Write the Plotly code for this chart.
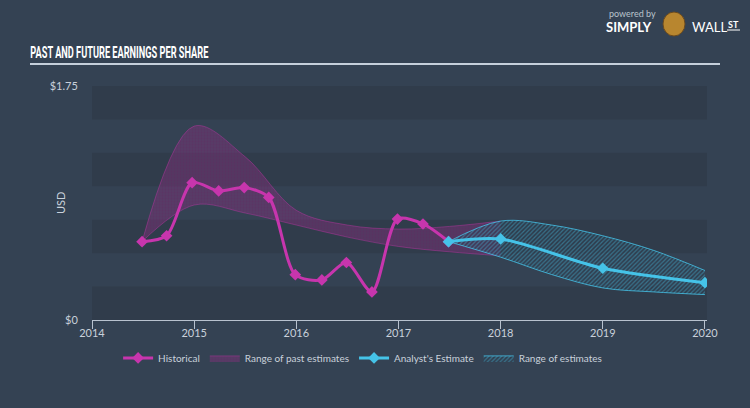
import plotly.graph_objects as go

# ---------------- data ----------------
hist_x = [2014.49, 2014.73, 2014.98, 2015.24, 2015.49, 2015.73, 2015.99,
          2016.25, 2016.49, 2016.74, 2016.99, 2017.24, 2017.49]
hist_y = [0.586, 0.63, 1.027, 0.965, 0.99, 0.917, 0.339,
          0.30, 0.43, 0.21, 0.755, 0.718, 0.586]

past_rng_x = [2014.49, 2015.0, 2015.5, 2016.0, 2016.5, 2017.0, 2017.5, 2018.0]
past_rng_hi = [0.586, 1.45, 1.22, 0.82, 0.71, 0.68, 0.70, 0.74]
past_rng_lo = [0.586, 0.86, 0.80, 0.71, 0.62, 0.55, 0.51, 0.48]

est_x = [2017.49, 2018.0, 2019.0, 2020.0]
est_y = [0.586, 0.606, 0.387, 0.279]

est_rng_x = [2017.49, 2018.0, 2018.5, 2019.0, 2019.5, 2020.0]
est_rng_hi = [0.586, 0.74, 0.71, 0.63, 0.52, 0.37]
est_rng_lo = [0.586, 0.47, 0.34, 0.24, 0.21, 0.19]

x_ticks = [2014, 2015, 2016, 2017, 2018, 2019, 2020]
y_ticks = [0, 1.75]
y_tick_labels = ["$0", "$1.75"]

BG = "#344253"
DARK = "#303c4b"
PINK = "#c735ad"
BLUE = "#45c3e8"
TXT = "#c9d1db"

L, R, T, B = 92, 43, 86, 88
PW, PH = 750 - L - R, 408 - T - B


def px(x):
    return (x - L) / PW


def py(y):
    return (408 - B - y) / PH


fig = go.Figure()

# past range band
fig.add_trace(go.Scatter(x=past_rng_x, y=past_rng_lo, mode="lines",
                         line=dict(color="rgba(199,53,173,0.4)", width=1, shape="spline"),
                         showlegend=False, hoverinfo="skip"))
fig.add_trace(go.Scatter(x=past_rng_x, y=past_rng_hi, mode="lines", fill="tonexty",
                         line=dict(color="rgba(199,53,173,0.4)", width=1, shape="spline"),
                         fillcolor="rgba(140,50,130,0.45)",
                         fillpattern=dict(shape=".", fgcolor="rgba(100,35,95,0.5)",
                                          bgcolor="rgba(135,48,128,0.42)", size=3, solidity=0.3),
                         name="Range of past estimates", hoverinfo="skip"))
# estimate range band
fig.add_trace(go.Scatter(x=est_rng_x, y=est_rng_lo, mode="lines",
                         line=dict(color="rgba(69,195,232,0.8)", width=1, shape="spline"),
                         showlegend=False, hoverinfo="skip"))
fig.add_trace(go.Scatter(x=est_rng_x, y=est_rng_hi, mode="lines", fill="tonexty",
                         line=dict(color="rgba(69,195,232,0.8)", width=1, shape="spline"),
                         fillpattern=dict(shape="/", fgcolor="rgba(69,195,232,0.8)",
                                          bgcolor="rgba(45,60,78,0.5)", size=3, solidity=0.4),
                         name="Range of estimates", hoverinfo="skip"))

# lines
fig.add_trace(go.Scatter(x=hist_x, y=hist_y, mode="lines+markers", name="Historical",
                         line=dict(color=PINK, width=3, shape="spline", smoothing=0.8),
                         marker=dict(symbol="diamond", size=9, color=PINK)))
fig.add_trace(go.Scatter(x=est_x, y=est_y, mode="lines+markers", name="Analyst's Estimate",
                         line=dict(color=BLUE, width=3, shape="spline", smoothing=0.8),
                         marker=dict(symbol="diamond", size=9, color=BLUE)))

# background stripes
shapes = []
for lo in [0, 0.5, 1.0, 1.5]:
    shapes.append(dict(type="rect", xref="paper", yref="y", x0=0, x1=1, y0=lo, y1=lo + 0.25,
                       fillcolor=DARK, line=dict(width=0), layer="below"))
# title underline
shapes.append(dict(type="line", xref="paper", yref="paper",
                   x0=px(30), x1=px(720), y0=py(64), y1=py(64),
                   line=dict(color="#c5cfdb", width=2)))
# small logo emblem
shapes.append(dict(type="circle", xref="paper", yref="paper",
                   x0=px(663), x1=px(685), y0=py(36), y1=py(12),
                   fillcolor="#b8862f", line=dict(color="#6b4a1e", width=1)))
# underline of "ST" in logo
shapes.append(dict(type="line", xref="paper", yref="paper",
                   x0=px(727), x1=px(740), y0=py(30), y1=py(30),
                   line=dict(color="#ffffff", width=1)))

fig.update_layout(
    width=750, height=408,
    paper_bgcolor=BG, plot_bgcolor=BG,
    margin=dict(l=L, r=R, t=T, b=B),
    font=dict(family="Lato", color=TXT, size=11),
    shapes=shapes,
    xaxis=dict(range=[2014, 2020.02], tickmode="array", tickvals=x_ticks,
               ticktext=[str(v) for v in x_ticks], showgrid=False, zeroline=False,
               showline=True, linecolor="#b8c2cf", linewidth=1,
               ticks="outside", ticklen=8, tickcolor="#b8c2cf", ticklabelstandoff=-5,
               tickfont=dict(size=11, color=TXT, family="Lato")),
    yaxis=dict(range=[0, 1.75], tickmode="array", tickvals=y_ticks, ticktext=y_tick_labels,
               showgrid=False, zeroline=False, showline=False,
               ticks="outside", ticklen=11, tickcolor="rgba(0,0,0,0)",
               tickfont=dict(size=11, color=TXT, family="Lato")),
    legend=dict(orientation="h", x=0.44, xanchor="center", y=-0.162, yanchor="middle",
                itemwidth=30, font=dict(size=10, color=TXT, family="Lato"),
                bgcolor="rgba(0,0,0,0)", traceorder="normal"),
    annotations=[
        dict(text="USD", xref="paper", yref="paper", x=px(60), y=py(203), textangle=-90,
             xanchor="center", yanchor="middle", showarrow=False,
             font=dict(size=11, color=TXT, family="Lato")),
        dict(text="PAST AND FUTURE EARNINGS PER SHARE", xref="paper", yref="paper",
             x=px(119), y=py(52), xanchor="center", yanchor="middle", showarrow=False,
             font=dict(family="Roboto", weight="bold", size=17, color="#ffffff")),
        dict(text="powered by", xref="paper", yref="paper", x=px(607),
             y=py(13), xanchor="left", yanchor="middle", showarrow=False,
             font=dict(family="Lato", size=9, color="#b9c2cc")),
        dict(text="<b>SIMPLY</b>", xref="paper", yref="paper", x=px(604),
             y=py(27), xanchor="left", yanchor="middle", showarrow=False,
             font=dict(family="Lato", size=13, color="#ffffff")),
        dict(text="WALL", xref="paper", yref="paper", x=px(690),
             y=py(27), xanchor="left", yanchor="middle", showarrow=False,
             font=dict(family="Lato", size=13, color="#ffffff")),
        dict(text="<b>ST</b>", xref="paper", yref="paper", x=px(726),
             y=py(24), xanchor="left", yanchor="middle", showarrow=False,
             font=dict(family="Lato", size=9, color="#ffffff")),
    ],
)

# legend order: Historical, Range of past, Analyst's, Range of estimates
fig.data[4].legendrank = 1
fig.data[1].legendrank = 2
fig.data[5].legendrank = 3
fig.data[3].legendrank = 4

post = """
document.body.style.margin='0px';
var gd = document.getElementById('{plot_id}');
gd.querySelectorAll('text.annotation-text').forEach(function(t){
  if (t.textContent.indexOf('PAST AND FUTURE') === 0) {
    t.setAttribute('textLength', '178');
    t.setAttribute('lengthAdjust', 'spacingAndGlyphs');
  }
});
"""

fig.write_html("out.html", post_script=post, config={"displayModeBar": False})
